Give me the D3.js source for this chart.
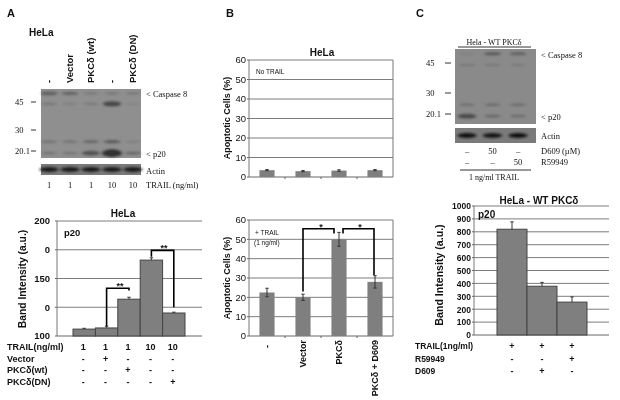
<!DOCTYPE html>
<html><head><meta charset="utf-8">
<script src="https://cdn.jsdelivr.net/npm/d3@7/dist/d3.min.js"></script>
<style>html,body{margin:0;background:#fff}svg{display:block;filter:blur(0.35px)}text{fill:#111}</style></head>
<body><svg id="c" width="620" height="400"></svg>
<script>
// ---- data ----
const aCategories=["TRAIL 1","Vector","PKCδ(wt)","TRAIL 10","PKCδ(DN)"];
const aValues=[106,107,132,166,120];
const aErrors=[0.7,1.5,1.7,2,0.7];
const aTicks=[100,125,150,175,200];
const aTickLabels=["100","0","150","0","200"];
const aRows=[["TRAIL(ng/ml)",["1","1","1","10","10"]],["Vector",["-","+","-","-","-"]],["PKCδ(wt)",["-","-","+","-","-"]],["PKCδ(DN)",["-","-","-","-","+"]]];
const bCategories=["-","Vector","PKCδ","PKCδ + D609"];
const bTopValues=[3.5,3,3.3,3.5];
const bTopErrors=[0.3,0.3,0.4,0.3];
const bBottomValues=[22.5,20,50,28];
const bBottomErrors=[2.2,1.6,3.6,3.2];
const bTicks=[0,10,20,30,40,50,60];
const cCategories=["TRAIL","D609","R59949"];
const cValues=[820,378,255];
const cErrors=[57,30,40];
const cTicks=[0,100,200,300,400,500,600,700,800,900,1000];
const cRows=[["TRAIL(1ng/ml)",["+","+","+"]],["R59949",["-","-","+"]],["D609",["-","+","-"]]];
const blotMW=[51,43.8,24,19.3];
const blotA=[[.5,.45,.22,.25,.25],[.26,.16,.22,.75,.1],[.28,.28,.4,.5,.16],[.28,.28,.65,1,.4]];
const actinA=[.85,.85,.85,.85,.85];
const blotC=[[.1,.5,.42],[.2,.2,.16],[.28,.32,.32],[.7,.36,.3]];
const actinC=[.95,.9,.95];
const laneLabelsA=["1","1","1","10","10"];
const mwTicks=[45,30,20.1];
const mwLabels=["45","30","20.1"];

// ---- helpers ----
const svg=d3.select("#c");
const SANS="'Liberation Sans',Arial,sans-serif",SERIF="'Liberation Serif','Times New Roman',serif";
const defs=svg.append("defs");
defs.append("filter").attr("id","bl").attr("x","-40%").attr("y","-200%").attr("width","180%").attr("height","500%")
  .append("feGaussianBlur").attr("stdDeviation","1.4 1");
function T(x,y,s,o={}){
  const t=svg.append("text").attr("x",x).attr("y",y).text(s)
   .attr("font-family",o.ff||SANS).attr("font-size",o.fs||9).attr("font-weight",o.b?"bold":"normal")
   .attr("text-anchor",o.a||"start");
  if(o.r!==undefined) t.attr("transform",`rotate(${o.r} ${x} ${y})`);
  if(o.fill) t.style("fill",o.fill);
  return t;
}
function L(x1,y1,x2,y2,c="#333",w=1){svg.append("line").attr("x1",x1).attr("y1",y1).attr("x2",x2).attr("y2",y2).attr("stroke",c).attr("stroke-width",w);}

function blot(o){
  const g=svg.append("g");
  const x=d3.scalePoint().domain(d3.range(o.rows[0].length)).range(o.lanes);
  const y=d3.scaleLog().domain(mwTicks).range(o.mwY);
  g.append("rect").attr("x",o.x0).attr("y",o.y0).attr("width",o.x1-o.x0).attr("height",o.y1-o.y0).attr("fill",o.bg);
  o.rows.forEach((r,i)=>g.selectAll(null).data(r).join("ellipse")
    .attr("cx",(d,j)=>x(j)).attr("cy",y(blotMW[i]))
    .attr("rx",d=>7+d*3).attr("ry",d=>1.2+d*d*2.6)
    .attr("fill","#222").attr("opacity",d=>d*.85).attr("filter","url(#bl)"));
  g.append("rect").attr("x",o.x0).attr("y",o.ay0).attr("width",o.x1-o.x0).attr("height",o.ay1-o.ay0).attr("fill","#7a7a7a");
  g.selectAll(null).data(o.actin).join("ellipse")
    .attr("cx",(d,j)=>x(j)).attr("cy",(o.ay0+o.ay1)/2)
    .attr("rx",9.5).attr("ry",2.6).attr("fill","#111").attr("opacity",d=>d).attr("filter","url(#bl)");
  mwTicks.forEach((m,i)=>{
    T(o.mwX,y(m)+3,mwLabels[i],{ff:SERIF,fs:8.5});
    L(o.dash[0],y(m),o.dash[1],y(m),"#333",1);
  });
  return x;
}

function frame(o){
  const y=d3.scaleLinear().domain(o.domain).range([o.y0,o.y1]);
  o.ticks.forEach((t,i)=>{
    if(t!==o.domain[0]) L(o.x0,y(t),o.x1,y(t),"#7d7d7d",1);
    T(o.x0-o.labGap,y(t)+3.3,o.labels?o.labels[i]:String(t),{a:"end",b:o.boldTicks,fs:o.tickFs||9});
    L(o.x0-2,y(t),o.x0,y(t),"#666",1);
  });
  L(o.x0,o.y0,o.x0,o.y1,"#777",1);
  L(o.x0,o.y0,o.x1,o.y0,"#666",1);
  return y;
}
function bars(o){
  const x=d3.scaleBand().domain(o.cats).range(o.range).paddingInner(o.pad||0).paddingOuter(o.padO||0);
  const g=svg.append("g");
  g.selectAll(null).data(o.vals).join("rect")
    .attr("x",(d,i)=>x(o.cats[i])).attr("width",x.bandwidth())
    .attr("y",d=>o.y(d)).attr("height",d=>o.y(o.base)-o.y(d))
    .attr("fill",o.fill||"#7f7f7f").attr("stroke",o.stroke||"none").attr("stroke-width",1);
  const cx=i=>x(o.cats[i])+x.bandwidth()/2;
  o.vals.forEach((v,i)=>{
    const e=o.errs[i];
    L(cx(i),o.y(v+e),cx(i),o.y(o.both?v-e:v),"#333",1);
    L(cx(i)-1.7,o.y(v+e),cx(i)+1.7,o.y(v+e),"#333",1);
    if(o.both) L(cx(i)-1.7,o.y(v-e),cx(i)+1.7,o.y(v-e),"#333",1);
  });
  return cx;
}
function bracket(x1,yA,yTop,x2,yB,star,sx){
  svg.append("path").attr("d",d3.line()([[x1,yA],[x1,yTop],[x2,yTop],[x2,yB]]))
    .attr("fill","none").attr("stroke","#000").attr("stroke-width",1.6);
  T(sx,yTop+1,star,{a:"middle",fs:9,b:true});
}

// ---- panel letters ----
T(7,17,"A",{b:true,fs:11});T(226,17,"B",{b:true,fs:11});T(416,17,"C",{b:true,fs:11});

// ---- A blot ----
T(29,36,"HeLa",{b:true,fs:10});
const ax=blot({x0:41,x1:141,y0:89,y1:158,ay0:164,ay1:175,bg:"#8f8f8f",rows:blotA,actin:actinA,lanes:[49,133],mwY:[102,130,151],mwX:15,dash:[31,36]});
[["-",0],["Vector",1],["PKCδ (wt)",2],["-",3],["PKCδ (DN)",4]].forEach(([s,i])=>
  T(ax(i)+3,83,s,{b:true,fs:9.5,r:-90}));
T(146,97,"< Caspase 8",{ff:SERIF,fs:8.5});
T(146,157,"< p20",{ff:SERIF,fs:8.5});
T(146,174,"Actin",{ff:SERIF,fs:8.5});
laneLabelsA.forEach((s,i)=>T(ax(i),188,s,{ff:SERIF,fs:8.5,a:"middle"}));
T(146,188,"TRAIL (ng/ml)",{ff:SERIF,fs:8.5});

// ---- A chart ----
T(123,217,"HeLa",{b:true,fs:10,a:"middle"});
const ay=frame({domain:[100,200],ticks:aTicks,labels:aTickLabels,x0:57,x1:202,y0:336,y1:221,labGap:7,boldTicks:true,tickFs:9.5});
T(64,236,"p20",{b:true,fs:9.5});
T(26,279,"Band Intensity (a.u.)",{b:true,fs:10.3,a:"middle",r:-90});
const acx=bars({cats:aCategories,vals:aValues,errs:aErrors,y:ay,base:100,range:[73,185],stroke:"#444"});
bracket(acx(1),ay(108.5),ay(141.5),acx(2),ay(139.5),"**",120);
bracket(acx(3),ay(169),ay(174.5),acx(4),ay(125),"**",164);
[350,361.5,373,385].forEach((yy,r)=>{
  T(7,yy,aRows[r][0],{b:true,fs:9});
  aRows[r][1].forEach((s,i)=>T(acx(i)-1,yy,s,{b:true,fs:9,a:"middle"}));
});

// ---- B top ----
T(322,56,"HeLa",{b:true,fs:10,a:"middle"});
const by1=frame({domain:[0,60],ticks:bTicks,x0:249,x1:393,y0:177,y1:60,labGap:3,tickFs:9.5});
L(393,60,393,177,"#777",1);
T(256,74,"No TRAIL",{fs:6.5});
T(230,118,"Apoptotic Cells (%)",{b:true,fs:9,a:"middle",r:-90});
bars({cats:bCategories,vals:bTopValues,errs:bTopErrors,y:by1,base:0,range:[249,393],pad:.58,padO:.29,both:true});
bCategories.forEach((c,i)=>{const x=249+36*(i+1);if(i<3)L(x,177,x,179,"#666",1);});

// ---- B bottom ----
const by2=frame({domain:[0,60],ticks:bTicks,x0:249,x1:393,y0:336,y1:220,labGap:3,tickFs:9.5});
L(393,220,393,336,"#777",1);
T(255,235,"+ TRAIL",{fs:6.5});T(254,245,"(1 ng/ml)",{fs:6.5});
T(230,278,"Apoptotic Cells (%)",{b:true,fs:9,a:"middle",r:-90});
const bcx=bars({cats:bCategories,vals:bBottomValues,errs:bBottomErrors,y:by2,base:0,range:[249,393],pad:.58,padO:.29,both:true});
bCategories.forEach((c,i)=>{const x=249+36*(i+1);if(i<3)L(x,336,x,338,"#666",1);
  T(bcx(i)+3.3,c==="-"?345:340,c,{b:true,fs:9,a:"end",r:-90});});
bracket(bcx(1),by2(23),by2(55.5),bcx(2)-5,by2(53),"*",321);
bracket(bcx(2)+4,by2(53),by2(55.5),bcx(3)-1,by2(31.5),"*",360);

// ---- C blot ----
T(494,45,"Hela - WT PKCδ",{ff:SERIF,fs:8,a:"middle"});
L(458,47,531,47,"#333",1);
const cx0=blot({x0:455,x1:536,y0:49,y1:124,ay0:128,ay1:143,bg:"#8a8a8a",rows:blotC,actin:actinC,lanes:[467,518],mwY:[63,93,114],mwX:426,dash:[445,451]});
T(541,58,"< Caspase 8",{ff:SERIF,fs:8.5});
T(541,120,"< p20",{ff:SERIF,fs:8.5});
T(541,139,"Actin",{ff:SERIF,fs:8.5});
T(541,154,"D609 (µM)",{ff:SERIF,fs:8.5});
T(541,165,"R59949",{ff:SERIF,fs:8.5});
["–","50","–"].forEach((s,i)=>T(cx0(i),154,s,{ff:SERIF,fs:8.5,a:"middle"}));
["–","–","50"].forEach((s,i)=>T(cx0(i),165,s,{ff:SERIF,fs:8.5,a:"middle"}));
L(460,170,531,170,"#333",1);
T(494,180,"1 ng/ml TRAIL",{ff:SERIF,fs:8,a:"middle"});

// ---- C chart ----
T(539,204,"HeLa - WT PKCδ",{b:true,fs:10,a:"middle"});
const cy=frame({domain:[0,1000],ticks:cTicks,x0:474,x1:609,y0:335,y1:206,labGap:3,boldTicks:true,tickFs:8.5});
T(478,218,"p20",{b:true,fs:10});
T(443,275,"Band Intensity (a.u.)",{b:true,fs:10.6,a:"middle",r:-90});
const ccx=bars({cats:cCategories,vals:cValues,errs:cErrors,y:cy,base:0,range:[497,587],stroke:"#444"});
[349,361.5,374].forEach((yy,r)=>{
  T(415,yy,cRows[r][0],{b:true,fs:8.5});
  cRows[r][1].forEach((s,i)=>T(ccx(i),yy,s,{b:true,fs:9,a:"middle"}));
});
</script></body></html>
